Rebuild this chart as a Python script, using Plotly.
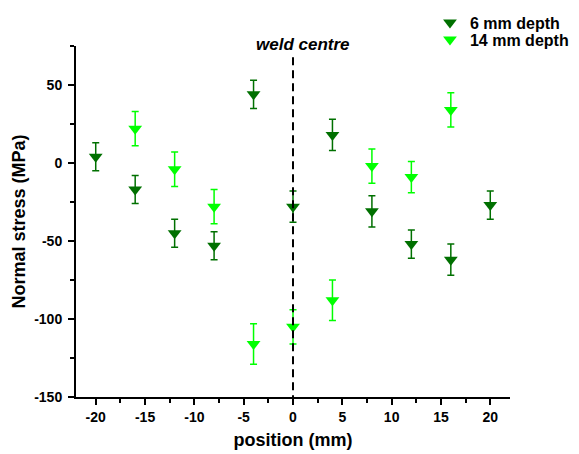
import plotly.graph_objects as go

# ---- data ----
positions_6mm = [-20, -16, -12, -8, -4, 0, 4, 8, 12, 16, 20]
stress_6mm = [4, -17, -45, -53, 44, -28, 18, -31, -52, -62, -27]
err_6mm = [9, 9, 9, 9, 9, 10, 10, 10, 9, 10, 9]

positions_14mm = [-16, -12, -8, -4, 0, 4, 8, 12, 16]
stress_14mm = [22, -4, -28, -116, -105, -88, -2, -9, 34]
err_14mm = [11, 11, 11, 13, 11, 13, 11, 10, 11]

x_ticks = [-20, -15, -10, -5, 0, 5, 10, 15, 20]
y_ticks = [-150, -100, -50, 0, 50]
weld_position = 0

dark_green = "#007000"
bright_green = "#00FF00"
FONT = "Liberation Sans, Arial"

fig = go.Figure()
fig.add_trace(go.Scatter(
    x=positions_6mm, y=stress_6mm, mode="markers", name="6 mm depth",
    marker=dict(symbol="triangle-down", size=12, color=dark_green),
    error_y=dict(type="data", array=err_6mm, visible=True, color=dark_green,
                 thickness=1.5, width=3.5),
    legend="legend",
))
fig.add_trace(go.Scatter(
    x=positions_14mm, y=stress_14mm, mode="markers", name="14 mm depth",
    marker=dict(symbol="triangle-down", size=12, color=bright_green),
    error_y=dict(type="data", array=err_14mm, visible=True, color=bright_green,
                 thickness=1.5, width=3.5),
    legend="legend2",
))

fig.add_shape(type="line", x0=weld_position, x1=weld_position, y0=-154, y1=71,
              xref="x", yref="y", line=dict(color="black", width=2, dash="8px,5px"))

fig.add_annotation(x=weld_position, y=1.003, xref="x", yref="paper", xshift=10,
                   text="<b><i>weld centre</i></b>", showarrow=False,
                   font=dict(size=17, color="black", family=FONT),
                   yanchor="middle")

axis_font = dict(family=FONT, size=14, color="black", weight="bold")
title_font = dict(family=FONT, size=18, color="black", weight="bold")

fig.update_xaxes(
    range=[-22, 22], tickvals=x_ticks, ticktext=[str(v) for v in x_ticks],
    showline=True, linecolor="black", linewidth=2, mirror=False,
    ticks="outside", ticklen=6, tickwidth=2, tickcolor="black",
    minor=dict(dtick=2.5, tick0=0, ticks="outside", ticklen=4, tickwidth=2, tickcolor="black"),
    showgrid=False, zeroline=False, tickfont=axis_font, automargin=False,
    title=dict(text="position (mm)", font=title_font, standoff=10),
)
fig.update_yaxes(
    range=[-150, 75], tickvals=y_ticks, ticktext=[str(v) for v in y_ticks],
    showline=True, linecolor="black", linewidth=2, mirror=False,
    ticks="outside", ticklen=6, tickwidth=2, tickcolor="black",
    minor=dict(dtick=25, tick0=0, ticks="outside", ticklen=4, tickwidth=2, tickcolor="black"),
    showgrid=False, zeroline=False, tickfont=axis_font, automargin=False,
    ticklabelstandoff=3,
    title=dict(text="Normal stress (MPa)", font=title_font, standoff=4),
)

legend_common = dict(xref="container", yref="container", x=0.739,
                     xanchor="left", yanchor="middle",
                     font=dict(family=FONT, size=16, color="black", weight="bold"),
                     bgcolor="rgba(0,0,0,0)", borderwidth=0)

fig.update_layout(
    width=571, height=446,
    margin=dict(l=68, r=69, t=38, b=57, pad=0, autoexpand=False),
    plot_bgcolor="white", paper_bgcolor="white",
    showlegend=True,
    legend=dict(y=0.967, **legend_common),
    legend2=dict(y=0.929, **legend_common),
)

fig.write_html("out.html")
